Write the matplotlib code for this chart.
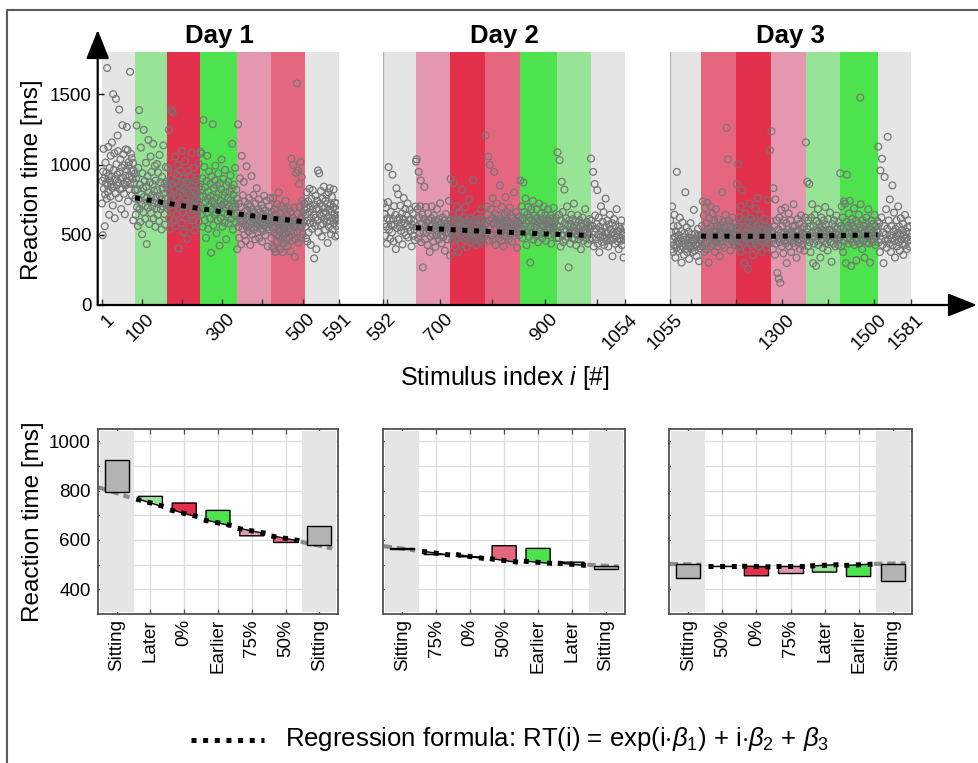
import numpy as np
import matplotlib
matplotlib.use('Agg')
import matplotlib.pyplot as plt
from matplotlib.patches import FancyArrowPatch, Polygon, Rectangle
from matplotlib.lines import Line2D
from matplotlib.transforms import offset_copy

plt.rcParams['font.family'] = ['Liberation Sans', 'DejaVu Sans']
plt.rcParams['mathtext.fontset'] = 'custom'
plt.rcParams['mathtext.rm'] = 'Liberation Sans'
plt.rcParams['mathtext.it'] = 'Liberation Sans:italic'

# ---------------- data ----------------
day_titles = ['Day 1', 'Day 2', 'Day 3']
edges_d1 = [1, 84, 164, 246, 338, 421, 505, 591]
edges_d2 = [592, 654, 720, 787, 853, 924, 988, 1054]
edges_d3 = [1055, 1123, 1200, 1276, 1351, 1425, 1508, 1581]
conds_d1 = ['Sitting', 'Later', '0%', 'Earlier', '75%', '50%', 'Sitting']
conds_d2 = ['Sitting', '75%', '0%', '50%', 'Earlier', 'Later', 'Sitting']
conds_d3 = ['Sitting', '50%', '0%', '75%', 'Later', 'Earlier', 'Sitting']

ticks_d1 = [1, 100, 200, 300, 400, 500, 591]
ticklabels_d1 = ['1', '100', '', '300', '', '500', '591']
ticks_d2 = [592, 600, 700, 800, 900, 1000, 1054]
ticklabels_d2 = ['592', '', '700', '', '900', '', '1054']
ticks_d3 = [1055, 1100, 1200, 1300, 1400, 1500, 1581]
ticklabels_d3 = ['1055', '', '', '1300', '', '1500', '1581']

# reaction times (ms) per block, day 1
d1_sit1 = [723, 884, 497, 951, 1112, 828, 903, 561, 787, 1014, 869, 942, 757, 1688, 853, 806, 1127, 918, 643, 976,
           887, 772, 1063, 858, 913, 1158, 834, 709, 1502, 961, 845, 1081, 618, 897, 794, 1468, 1003, 852, 929, 1207,
           1096, 874, 762, 1392, 947, 823, 1038, 905, 683, 979, 831, 1281, 908, 1074, 866, 793, 996, 646, 921, 1109,
           854, 963, 1268, 882, 1103, 738, 992, 1017, 826, 917, 1661, 863, 1077, 953, 1046, 781, 898, 1012, 603, 958,
           872, 934, 817]
d1_later = [758, 643, 902, 1279, 697, 824, 563, 977, 751, 1388, 684, 857, 592, 1121, 788, 716, 503, 938, 833, 662,
            1247, 771, 884, 613, 706, 1013, 842, 434, 764, 918, 693, 1176, 801, 577, 873, 742, 1058, 654, 947, 783,
            702, 861, 1148, 617, 812, 727, 991, 557, 886, 764, 688, 1004, 818, 641, 943, 719, 598, 1069, 776, 874,
            681, 753, 538, 913, 827, 703, 1137, 792, 648, 863, 571, 757, 983, 722, 878, 839]
d1_zero = [853, 977, 704, 1248, 617, 802, 543, 897, 763, 1386, 678, 862, 1372, 787, 603, 937, 828, 713, 1057, 562,
           882, 768, 647, 923, 997, 724, 403, 848, 693, 811, 958, 737, 583, 874, 1098, 662, 793, 518, 903, 827,
           698, 1023, 758, 622, 877, 813, 472, 731, 953, 677, 858, 792, 557, 918, 714, 638, 1083, 767, 852, 687,
           604, 978, 743, 818, 532, 884, 757, 683, 908, 803, 657, 724, 1008, 592, 843, 776, 703]
d1_earl = [1092, 1079, 823, 648, 903, 558, 772, 1318, 687, 983, 603, 838, 733, 478, 882, 657, 1063, 758, 543, 807,
           952, 704, 617, 863, 776, 372, 918, 683, 742, 1288, 567, 833, 718, 643, 887, 993, 658, 764, 512, 852,
           697, 602, 937, 793, 678, 423, 868, 743, 618, 824, 1037, 712, 558, 782, 897, 653, 728, 587, 962, 803,
           692, 468, 853, 717, 644, 762, 878, 583, 702, 808, 667, 923, 748, 613, 832, 1148, 694, 537, 784, 857,
           723, 638, 977, 703, 588, 821, 758, 398]
d1_75 = [652, 1287, 557, 723, 478, 618, 902, 593, 697, 432, 1062, 638, 543, 782, 603, 877, 498, 663, 738, 572,
         457, 624, 988, 553, 678, 717, 523, 602, 763, 577, 643, 428, 703, 548, 918, 622, 503, 677, 588, 783,
         537, 653, 612, 468, 724, 557, 638, 832, 593, 518, 683, 607, 752, 477, 573, 662, 598, 542, 713, 617,
         452, 583, 688, 528, 643, 778, 562, 608, 497, 672, 587, 743, 553, 618, 417, 654, 577, 703, 538, 623,
         762, 597]
d1_50 = [593, 477, 662, 418, 553, 763, 597, 403, 518, 683, 557, 378, 643, 497, 583, 718, 452, 613, 537, 802,
         488, 573, 398, 652, 527, 463, 703, 588, 512, 377, 623, 547, 438, 684, 577, 503, 742, 608, 472, 563,
         637, 417, 592, 523, 688, 483, 603, 548, 382, 663, 528, 1042, 583, 457, 618, 998, 512, 693, 558, 342,
         602, 468, 942, 577, 1578, 523, 648, 958, 443, 592, 862, 698, 553, 1018, 478, 622, 912, 567, 743, 502,
         657, 588, 723, 678]
d1_sit2 = [722, 558, 643, 477, 803, 688, 452, 603, 738, 517, 662, 828, 583, 703, 428, 618, 757, 542, 683, 818,
           587, 642, 332, 713, 563, 778, 623, 398, 687, 743, 602, 958, 518, 682, 938, 647, 724, 568, 812, 633,
           487, 702, 758, 577, 653, 843, 607, 692, 537, 742, 658, 783, 592, 718, 442, 628, 802, 557, 683, 832,
           598, 717, 503, 662, 772, 617, 538, 698, 823, 583, 643, 728, 488, 613, 678, 562, 723, 638, 497, 602,
           663, 578]

# day 2
d2_sit1 = [723, 577, 648, 493, 692, 558, 437, 618, 733, 982, 537, 604, 472, 663, 568, 517, 928, 612, 453, 704,
           573, 642, 398, 832, 548, 603, 788, 468, 622, 557, 708, 528, 587, 652, 432, 613, 762, 516, 583, 684,
           497, 643, 566, 723, 482, 604, 553, 678, 527, 612, 417, 572, 653, 493, 598, 538, 463, 702]
d2_75 = [1022, 1038, 557, 683, 476, 948, 623, 513, 703, 887, 447, 578, 643, 268, 527, 612, 842, 467, 558, 698,
         518, 592, 427, 653, 537, 602, 378, 563, 487, 618, 702, 508, 573, 452, 638, 543, 604, 413, 562, 497,
         683, 528, 593, 466, 612, 548, 724, 493, 583, 438, 527, 623, 484, 558, 603, 387, 542, 648, 512, 577,
         468, 562, 516, 742, 598, 352]
d2_0 = [898, 518, 583, 457, 642, 497, 868, 563, 418, 612, 538, 477, 703, 528, 593, 376, 557, 652, 498, 603,
        437, 543, 822, 507, 582, 623, 468, 552, 698, 487, 573, 413, 538, 602, 508, 752, 563, 476, 618, 527,
        446, 583, 512, 888, 537, 468, 603, 517, 562, 427, 643, 496, 568, 478, 532, 613, 453, 558, 522, 682,
        487, 553, 604, 437, 528, 572, 497]
d2_50 = [1208, 583, 702, 517, 643, 1058, 457, 603, 998, 547, 683, 497, 622, 762, 466, 583, 948, 537, 652, 428,
         604, 722, 506, 573, 638, 476, 592, 852, 527, 613, 457, 698, 553, 582, 417, 643, 518, 602, 768, 488,
         557, 663, 533, 598, 467, 583, 692, 507, 563, 637, 452, 618, 538, 577, 802, 497, 603, 557, 663, 517,
         407, 593, 542, 628, 498, 572]
d2_earl = [888, 603, 537, 703, 477, 622, 872, 558, 663, 517, 758, 583, 427, 642, 537, 698, 602, 486, 623, 302,
           557, 683, 518, 603, 742, 467, 582, 637, 548, 612, 497, 683, 567, 622, 447, 593, 722, 537, 604, 507,
           652, 568, 476, 618, 563, 703, 517, 592, 643, 457, 573, 608, 528, 682, 557, 498, 603, 547, 638, 437,
           582, 617, 523, 558, 692, 508, 593, 537, 622, 478, 568]
d2_later = [1088, 517, 478, 643, 1032, 558, 416, 603, 878, 497, 662, 447, 538, 822, 583, 466, 618, 527, 702, 487,
            563, 268, 602, 508, 437, 577, 643, 518, 476, 612, 553, 722, 467, 527, 592, 426, 563, 497, 638, 543,
            468, 603, 517, 562, 397, 582, 488, 623, 528, 457, 573, 512, 683, 537, 477, 592, 518, 437, 558, 503,
            612, 466, 542]
d2_sit2 = [1043, 603, 477, 563, 948, 417, 523, 862, 638, 467, 543, 578, 818, 437, 502, 622, 376, 558, 483, 703,
           527, 448, 592, 497, 662, 427, 553, 478, 758, 518, 457, 602, 512, 416, 573, 477, 643, 537, 462, 503,
           583, 347, 518, 468, 612, 497, 437, 562, 488, 683, 527, 452, 523, 398, 558, 476, 542, 458, 603, 426,
           498, 517, 338, 467, 552, 487]

# day 3
d3_sit1 = [603, 447, 518, 397, 702, 468, 377, 562, 428, 643, 487, 337, 523, 407, 948, 457, 563, 383, 498, 437,
           622, 472, 396, 527, 302, 452, 588, 417, 483, 358, 512, 437, 803, 398, 468, 553, 377, 462, 418, 523,
           328, 478, 443, 583, 402, 467, 503, 378, 452, 416, 678, 463, 387, 508, 427, 472, 347, 492, 417, 543,
           438, 312, 468, 403, 497, 452]
d3_50 = [467, 563, 418, 738, 503, 637, 377, 522, 692, 447, 583, 398, 728, 487, 543, 302, 618, 457, 512, 703,
         417, 558, 483, 652, 437, 528, 603, 468, 378, 523, 683, 447, 562, 497, 416, 612, 478, 542, 348, 503,
         568, 457, 518, 803, 428, 592, 487, 553, 407, 483, 642, 517, 1262, 573, 497, 1038, 602, 508, 467, 532,
         388, 562, 477, 543, 448, 622, 503, 458, 517, 427, 583, 492, 538]
d3_0 = [862, 468, 557, 1003, 417, 623, 507, 378, 703, 457, 542, 818, 437, 603, 488, 298, 558, 652, 472, 517,
        397, 592, 258, 478, 543, 722, 447, 512, 618, 428, 573, 487, 357, 532, 598, 462, 508, 688, 437, 563,
        477, 762, 518, 418, 582, 497, 643, 458, 523, 377, 568, 492, 537, 448, 612, 498, 467, 557, 408, 522,
        483, 748, 503, 437, 543, 1102, 597, 512]
d3_75 = [1238, 457, 523, 398, 832, 478, 562, 357, 752, 437, 603, 497, 228, 472, 538, 188, 622, 447, 158, 513,
         678, 418, 563, 477, 368, 602, 457, 518, 692, 438, 583, 298, 503, 462, 537, 652, 417, 512, 468, 603,
         377, 522, 457, 558, 442, 718, 497, 417, 563, 478, 527, 337, 488, 612, 447, 523, 467, 578, 398, 502,
         638, 458, 543, 428, 512, 477, 557, 387, 498, 623]
d3_later = [1158, 467, 543, 878, 418, 603, 497, 862, 447, 558, 377, 622, 478, 718, 512, 298, 563, 437, 642, 487,
            532, 278, 598, 458, 523, 683, 427, 577, 492, 548, 338, 508, 623, 467, 562, 407, 528, 602, 457, 503,
            698, 438, 572, 478, 518, 388, 612, 468, 537, 497, 658, 447, 533, 308, 577, 487, 523, 437, 603, 478,
            558, 417, 512, 638, 468, 542, 497, 427, 588, 483]
d3_earl = [478, 938, 562, 417, 703, 497, 623, 377, 543, 738, 457, 722, 517, 298, 592, 928, 477, 563, 437, 652,
           508, 742, 468, 583, 278, 523, 612, 447, 558, 497, 688, 427, 542, 478, 602, 318, 517, 457, 582, 503,
           643, 437, 552, 1478, 718, 467, 532, 398, 603, 508, 457, 562, 337, 518, 583, 477, 623, 447, 528, 497,
           682, 438, 557, 487, 302, 538, 467, 603, 507, 448, 578, 523, 468, 642, 497, 427, 562, 488, 533, 598]
d3_sit2 = [518, 1128, 447, 583, 377, 958, 467, 623, 1042, 428, 517, 298, 563, 912, 457, 503, 682, 407, 543, 1198,
           468, 602, 437, 752, 497, 378, 562, 477, 852, 427, 523, 658, 458, 338, 542, 487, 603, 417, 512, 702,
           447, 558, 387, 503, 618, 468, 532, 437, 578, 357, 497, 472, 642, 428, 522, 478, 398, 553, 458, 603,
           508, 417, 562, 483]

blocks_d1 = [d1_sit1, d1_later, d1_zero, d1_earl, d1_75, d1_50, d1_sit2]
blocks_d2 = [d2_sit1, d2_75, d2_0, d2_50, d2_earl, d2_later, d2_sit2]
blocks_d3 = [d3_sit1, d3_50, d3_0, d3_75, d3_later, d3_earl, d3_sit2]

# regression value at the inner block edges (top panels)
reg_top_d1 = [763, 725, 686, 649, 618, 593]
reg_top_d2 = [551, 537, 525, 514, 503, 495]
reg_top_d3 = [491, 490, 490, 492, 495, 500]

# bottom panels: block means and regression at block start / end
bot_mean_d1 = [925, 777, 750, 720, 617, 590, 658]
bot_reg0_d1 = [814, 766, 722, 681, 647, 616, 593]
bot_reg1_d1 = [773, 735, 694, 658, 627, 597, 566]
bot_mean_d2 = [563, 541, 532, 577, 566, 510, 482]
bot_reg0_d2 = [575, 554, 541, 524, 514, 506, 500]
bot_reg1_d2 = [558, 539, 525, 510, 505, 497, 492]
bot_mean_d3 = [445, 494, 455, 466, 470, 452, 435]
bot_reg0_d3 = [503, 494, 494, 493, 495, 497, 503]
bot_reg1_d3 = [500, 494, 491, 493, 500, 502, 506]

cond_colors = {'Sitting': '#e5e5e5', 'Later': '#98e496', '0%': '#e3304d',
               'Earlier': '#4de34d', '75%': '#e597b0', '50%': '#e5677f'}
box_colors = dict(cond_colors, Sitting='#b3b3b3')

# ---------------- figure ----------------
W, H = 979, 763
fig = plt.figure(figsize=(W / 100, H / 100), dpi=100)


def fx(px):
    return px / W


def fy(py):
    return 1 - py / H


def ax_px(x0, x1, y0, y1):
    return fig.add_axes([fx(x0), fy(y1), fx(x1) - fx(x0), (y1 - y0) / H])


TICK_FS = 13.5
LAB_FS = 17.5
dot_style = dict(color='black', lw=3.6, linestyle=(0, (1.0, 1.33)), dash_capstyle='butt')

# frame around the figure
fig.add_artist(Line2D([fx(7.5), fx(7.5), 1.01], [-0.01, fy(10), fy(10)], transform=fig.transFigure,
                      color='#5a5a5a', lw=1.5))

# ---------------- top panels ----------------
top_px = [(97.7, 339.3), (383.3, 625.3), (670.0, 911.0)]
edges_all = [edges_d1, edges_d2, edges_d3]
conds_all = [conds_d1, conds_d2, conds_d3]
blocks_all = [blocks_d1, blocks_d2, blocks_d3]
reg_top_all = [reg_top_d1, reg_top_d2, reg_top_d3]
ticks_all = [(ticks_d1, ticklabels_d1), (ticks_d2, ticklabels_d2), (ticks_d3, ticklabels_d3)]

for d in range(3):
    x0, x1 = top_px[d]
    ax = ax_px(x0, x1, 52.3, 305)
    edges = edges_all[d]
    if d == 0:
        scale = (x1 - 101.7) / (edges[-1] - edges[0])
        lo = edges[0] - (101.7 - x0) / scale
    else:
        lo = edges[0]
    ax.set_xlim(lo, edges[-1])
    ax.set_ylim(0, 1800)
    ax.patch.set_alpha(0)
    for s in ax.spines.values():
        s.set_visible(False)
    for k, c in enumerate(conds_all[d]):
        ax.axvspan(edges[k], edges[k + 1], color=cond_colors[c], lw=0, zorder=0.5)
    if d > 0:
        ax.axvline(edges[0], color='#b0b0b0', lw=0.9, zorder=0.6)
    for k, vals in enumerate(blocks_all[d]):
        xs = np.linspace(edges[k], edges[k + 1], len(vals), endpoint=False) + 0.5
        ax.scatter(xs, vals, s=24, facecolors='none', edgecolors='#767676', linewidths=0.9, zorder=2)
    ax.plot(edges[1:7], reg_top_all[d], zorder=3, **dot_style)

    tks, tlabs = ticks_all[d]
    ax.set_xticks(tks)
    ax.set_xticklabels([])
    ax.tick_params(axis='x', direction='in', length=4, width=1, color='#333333')
    tr = offset_copy(ax.get_xaxis_transform(), fig=fig, x=10, y=-12, units='dots')
    for t, lab in zip(tks, tlabs):
        if lab:
            ax.text(t, 0, lab, transform=tr, rotation=45, ha='right', va='center',
                    rotation_mode='anchor', fontsize=TICK_FS)
    if d == 0:
        ax.set_yticks([0, 500, 1000, 1500])
        ax.set_yticklabels(['0', '500', '1000', '1500'], fontsize=TICK_FS)
        ax.tick_params(axis='y', direction='in', length=4, width=1, pad=4.5)
    else:
        ax.set_yticks([])
    fig.text(fx((x0 + x1) / 2 + (1 if d == 0 else 0)), fy(43.5), day_titles[d], ha='center',
             va='baseline', fontsize=18.5, fontweight='bold')

# axis arrows
arr_kw = dict(arrowstyle='-|>,head_length=0.9,head_width=0.36', mutation_scale=20, color='black',
              lw=1.6, shrinkA=0, shrinkB=0, transform=fig.transFigure)
fig.add_artist(FancyArrowPatch((fx(97.7), fy(305)), (fx(977), fy(305)), **arr_kw))
fig.add_artist(FancyArrowPatch((fx(97.7), fy(305)), (fx(97.7), fy(30)), **arr_kw))

fig.text(fx(32), fy(179.5), 'Reaction time [ms]', rotation=90, ha='center', va='center', fontsize=LAB_FS)
fig.text(fx(505), fy(385), 'Stimulus index $i$ [#]', ha='center', va='baseline', fontsize=18)

# ---------------- bottom panels ----------------
bot_px = [(97.7, 338.3), (383.3, 625.0), (669.3, 911.7)]
bot_mean_all = [bot_mean_d1, bot_mean_d2, bot_mean_d3]
bot_reg0_all = [bot_reg0_d1, bot_reg0_d2, bot_reg0_d3]
bot_reg1_all = [bot_reg1_d1, bot_reg1_d2, bot_reg1_d3]
hw = 0.355
for d in range(3):
    x0, x1 = bot_px[d]
    ax = ax_px(x0, x1, 429, 614)
    ax.set_xlim(0.44, 7.56)
    ax.set_ylim(300, 1050)
    ax.set_axisbelow(True)
    ax.grid(True, color='#dcdcdc', lw=0.9)
    for s in ax.spines.values():
        s.set_color('#505050')
        s.set_linewidth(1.3)
    cats = conds_all[d]
    pos = np.arange(1, 8)
    ax.set_xticks(pos)
    ax.set_xticklabels([])
    ax.set_yticks(np.arange(400, 1001, 100))
    if d == 0:
        ax.set_yticklabels(['400', '', '600', '', '800', '', '1000'], fontsize=TICK_FS)
    else:
        ax.set_yticklabels([])
    ax.tick_params(direction='in', length=3.5, width=0.9, color='#505050', top=True, pad=5)
    for k in (1, 7):
        ax.axvspan(k - 0.5, k + 0.5, ymin=0.012, ymax=0.99, color='#e5e5e5', lw=0, zorder=1)
    means = bot_mean_all[d]
    r0 = bot_reg0_all[d]
    r1 = bot_reg1_all[d]
    for k, c in enumerate(cats):
        p = k + 1
        if c == 'Sitting':
            mid = (r0[k] + r1[k]) / 2
            ax.add_patch(Rectangle((p - hw, min(mid, means[k])), 2 * hw, abs(means[k] - mid),
                                   facecolor=box_colors[c], edgecolor='black', lw=1, zorder=3))
            ax.plot([p - 0.55, p + 0.38], [r0[k], r1[k]], color='#8a8a8a', lw=3,
                    linestyle=(0, (2.0, 1.2)), dash_capstyle='butt', zorder=2.5)
        else:
            poly = [(p - hw, r0[k]), (p + hw, r1[k]), (p + hw, means[k]), (p - hw, means[k])]
            ax.add_patch(Polygon(poly, closed=True, facecolor=box_colors[c], edgecolor='black',
                                 lw=1, zorder=3))
            ax.plot([p - 0.42, p + 0.42], [r0[k], r1[k]], zorder=4, **dot_style)
    trb = offset_copy(ax.get_xaxis_transform(), fig=fig, x=0, y=-5, units='dots')
    for p, c in zip(pos, cats):
        ax.text(p, 0, c, transform=trb, rotation=90, ha='right', va='center',
                rotation_mode='anchor', fontsize=TICK_FS)

fig.text(fx(33), fy(521.5), 'Reaction time [ms]', rotation=90, ha='center', va='center', fontsize=LAB_FS)

# ---------------- legend ----------------
fig.add_artist(Line2D([fx(191), fx(264)], [fy(740), fy(740)], transform=fig.transFigure, **dot_style))
fig.text(fx(285), fy(746), r'Regression formula: RT(i) = exp(i$\cdot\beta_{\mathit{1}}$) + i$\cdot\beta_{\mathit{2}}$ + $\beta_{\mathit{3}}$',
         ha='left', va='baseline', fontsize=18.5)

fig.savefig('out.png', dpi=100)
